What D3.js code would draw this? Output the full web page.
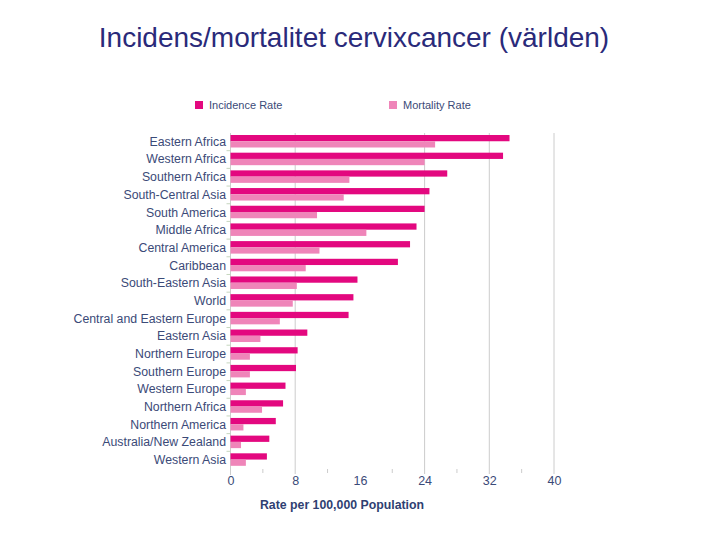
<!DOCTYPE html>
<html>
<head>
<meta charset="utf-8">
<script src="https://cdn.jsdelivr.net/npm/d3@7"></script>
<style>
  body { margin: 0; background: #fff; }
  svg { font-family: "Liberation Sans", Arial, sans-serif; }
</style>
</head>
<body>
<div id="chart"></div>
<script>
// DATA
const regions = ["Eastern Africa", "Western Africa", "Southern Africa", "South-Central Asia",
  "South America", "Middle Africa", "Central America", "Caribbean", "South-Eastern Asia",
  "World", "Central and Eastern Europe", "Eastern Asia", "Northern Europe", "Southern Europe",
  "Western Europe", "Northern Africa", "Northern America", "Australia/New Zealand", "Western Asia"];
const incidence = [34.5, 33.7, 26.8, 24.6, 24.0, 23.0, 22.2, 20.7, 15.7, 15.2, 14.6, 9.5,
  8.3, 8.1, 6.8, 6.5, 5.6, 4.8, 4.5];
const mortality = [25.3, 24.0, 14.7, 14.0, 10.7, 16.8, 11.0, 9.3, 8.2, 7.7, 6.1, 3.7,
  2.4, 2.4, 1.9, 3.9, 1.6, 1.3, 1.9];
const seriesNames = ["Incidence Rate", "Mortality Rate"];
const seriesColors = ["#e3087f", "#ef85b9"];
const xTicks = [0, 8, 16, 24, 32, 40];
const minorTicks = [4, 12, 20, 28, 36];
const gridValues = [8, 24, 32, 40];

const rows = regions.map((r, i) => ({ region: r, values: [incidence[i], mortality[i]] }));

const W = 720, H = 540;
const svg = d3.select("#chart").append("svg").attr("width", W).attr("height", H);

// Title
svg.append("text")
  .attr("x", 354).attr("y", 47)
  .attr("text-anchor", "middle")
  .attr("font-size", 28)
  .attr("fill", "#2a2a7a")
  .text("Incidens/mortalitet cervixcancer (världen)");

// Scales
const x = d3.scaleLinear().domain([0, 40]).range([230.5, 554]);
const y = d3.scaleBand().domain(regions).range([133, 469]);
const ySub = d3.scaleBand().domain([0, 1]).range([2, 14.5]);

// Gridlines
svg.append("g").selectAll("line")
  .data(gridValues).enter().append("line")
  .attr("x1", d => x(d)).attr("x2", d => x(d))
  .attr("y1", 133).attr("y2", 474)
  .attr("stroke", "#cccccc").attr("stroke-width", 1);

// Y axis line and category ticks
svg.append("line")
  .attr("x1", x(0)).attr("x2", x(0)).attr("y1", 133).attr("y2", 475)
  .attr("stroke", "#cccccc");
svg.append("g").selectAll("line")
  .data(regions.slice(1)).enter().append("line")
  .attr("x1", x(0) - 4).attr("x2", x(0))
  .attr("y1", d => y(d)).attr("y2", d => y(d))
  .attr("stroke", "#c6d6bf");

// Bars
const groups = svg.append("g").selectAll("g")
  .data(rows).enter().append("g")
  .attr("transform", d => "translate(0," + y(d.region) + ")");

groups.selectAll("rect")
  .data(d => d.values).enter().append("rect")
  .attr("x", x(0))
  .attr("y", (d, i) => ySub(i))
  .attr("width", d => x(d) - x(0))
  .attr("height", ySub.bandwidth())
  .attr("fill", (d, i) => seriesColors[i]);

// Category labels
svg.append("g").selectAll("text")
  .data(regions).enter().append("text")
  .attr("x", 226)
  .attr("y", d => y(d) + 8.5)
  .attr("dy", "0.35em")
  .attr("text-anchor", "end")
  .attr("font-size", 12.3)
  .attr("fill", "#3b4a78")
  .text(d => d);

// X axis (ticks + labels, no domain line)
const xAxis = d3.axisBottom(x).tickValues(xTicks).tickSize(0).tickPadding(0);
const gx = svg.append("g").attr("transform", "translate(0,476)").call(xAxis);
gx.select(".domain").remove();
gx.selectAll("text")
  .attr("font-size", 12.5)
  .attr("fill", "#3b4a78")
  .attr("font-family", "Liberation Sans, Arial, sans-serif")
  .attr("dy", "0.71em");

svg.append("g").selectAll("line")
  .data(minorTicks).enter().append("line")
  .attr("x1", d => x(d)).attr("x2", d => x(d))
  .attr("y1", 469).attr("y2", 473)
  .attr("stroke", "#cccccc");

// Axis title
svg.append("text")
  .attr("x", 342).attr("y", 509)
  .attr("text-anchor", "middle")
  .attr("font-size", 12.3)
  .attr("font-weight", "bold")
  .attr("fill", "#2f3f72")
  .text("Rate per 100,000 Population");

// Legend
const legendX = [195, 389];
const legend = svg.append("g").selectAll("g")
  .data(seriesNames).enter().append("g")
  .attr("transform", (d, i) => "translate(" + legendX[i] + ",101)");
legend.append("rect")
  .attr("width", 8).attr("height", 8)
  .attr("fill", (d, i) => seriesColors[i]);
legend.append("text")
  .attr("x", 14).attr("y", 4)
  .attr("dy", "0.35em")
  .attr("font-size", 11)
  .attr("fill", "#3b4a78")
  .text(d => d);
</script>
</body>
</html>
